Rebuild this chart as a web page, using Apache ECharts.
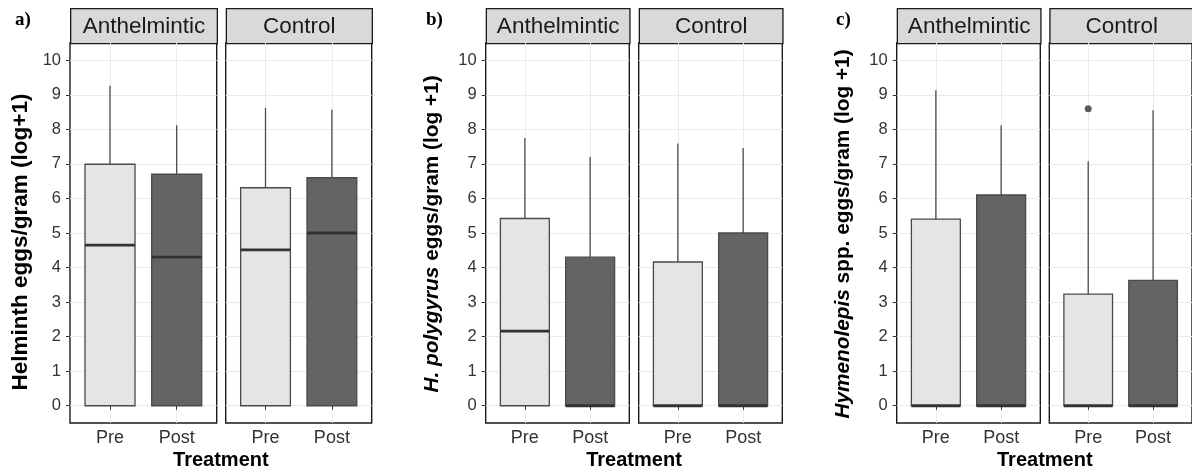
<!DOCTYPE html>
<html><head><meta charset="utf-8">
<script src="https://cdn.jsdelivr.net/npm/echarts@6/dist/echarts.min.js"></script>
<style>html,body{margin:0;padding:0;background:#fff}#c{width:1192px;height:474px}</style>
</head><body><div id="c"></div>
<script>
// ---------- data ----------
const categories = ['Pre', 'Post'];
const facets = ['Anthelmintic', 'Control'];
const yTicks = [0, 1, 2, 3, 4, 5, 6, 7, 8, 9, 10];
// each row: [lower whisker, Q1, median, Q3, upper whisker] for Pre, Post
const helminthAnth = [[0, 0, 4.65, 6.99, 9.26], [0, 0, 4.30, 6.70, 8.12]];
const helminthCtrl = [[0, 0, 4.51, 6.31, 8.62], [0, 0, 5.00, 6.60, 8.57]];
const polygyrusAnth = [[0, 0, 2.16, 5.42, 7.75], [0, 0, 0, 4.30, 7.20]];
const polygyrusCtrl = [[0, 0, 0, 4.16, 7.59], [0, 0, 0, 5.00, 7.46]];
const hymenAnth = [[0, 0, 0, 5.40, 9.13], [0, 0, 0, 6.10, 8.12]];
const hymenCtrl = [[0, 0, 0, 3.23, 7.08], [0, 0, 0, 3.63, 8.55]];
// outliers: [category, value]
const hymenCtrlOutliers = [['Pre', 8.60]];
const panelLetters = ['a)', 'b)', 'c)'];
const yTitles = [
  '{b|Helminth eggs/gram (log+1)}',
  '{i|H. polygyrus}{b| eggs/gram (log +1)}',
  '{i|Hymenolepis}{b| spp. eggs/gram (log +1)}'
];
const xTitle = 'Treatment';

// ---------- layout ----------
const FONT = '"Liberation Sans", Arial, Helvetica, sans-serif';
const PLOT_TOP = 43, PLOT_H = 380, STRIP_TOP = 8;
const facetLayout = [
  {left: 70, width: 146.7, data: helminthAnth, showY: true},
  {left: 225.7, width: 146, data: helminthCtrl, showY: false},
  {left: 485.7, width: 143.6, data: polygyrusAnth, showY: true},
  {left: 638.7, width: 143.6, data: polygyrusCtrl, showY: false},
  {left: 896.7, width: 143.6, data: hymenAnth, showY: true},
  {left: 1049.3, width: 143.6, data: hymenCtrl, showY: false, outliers: hymenCtrlOutliers}
];
const letterPos = [[15, 20], [426, 20], [836, 20]];
const yTitlePos = [[21, 242], [432, 234], [843, 234]];
const yTitleSize = [22.5, 20.8, 20.8];

const fills = ['#e5e5e5', '#646464'];

function renderBox(params, api) {
  const x = api.value(0);
  const low = api.value(1), q1 = api.value(2), med = api.value(3), q3 = api.value(4), high = api.value(5);
  const half = 0.375;
  const tl = api.coord([x - half, q3]);
  const br = api.coord([x + half, q1]);
  const hi = api.coord([x, high]);
  const q3p = api.coord([x, q3]);
  const q1p = api.coord([x, q1]);
  const lo = api.coord([x, low]);
  const mL = api.coord([x - half, med]);
  const mR = api.coord([x + half, med]);
  const fill = fills[Math.round(x) - 1];
  const ws = {stroke: '#4a4a4a', lineWidth: 1.3};
  return {
    type: 'group',
    children: [
      {type: 'line', shape: {x1: hi[0], y1: hi[1], x2: q3p[0], y2: q3p[1]}, style: ws},
      {type: 'line', shape: {x1: lo[0], y1: lo[1], x2: q1p[0], y2: q1p[1]}, style: ws},
      {type: 'rect', shape: {x: tl[0], y: tl[1], width: br[0] - tl[0], height: br[1] - tl[1]},
        style: {fill: fill, stroke: '#4a4a4a', lineWidth: 1.3}},
      {type: 'line', shape: {x1: mL[0], y1: mL[1], x2: mR[0], y2: mR[1]},
        style: {stroke: '#333333', lineWidth: 2.8}}
    ]
  };
}

const grids = [], xAxes = [], yAxes = [], series = [], graphics = [];
facetLayout.forEach((f, i) => {
  grids.push({left: f.left, top: PLOT_TOP, width: f.width, height: PLOT_H,
    show: true, borderColor: '#1a1a1a', borderWidth: 1.4, backgroundColor: 'transparent'});
  xAxes.push({
    type: 'value', gridIndex: i, min: 0.4, max: 2.6,
    axisLine: {show: false},
    axisTick: {show: true, customValues: [1, 2], length: 4, lineStyle: {color: '#333', width: 1}},
    axisLabel: {show: true, customValues: [1, 2], formatter: v => categories[Math.round(v) - 1],
      color: '#333', fontSize: 18, fontFamily: FONT, margin: 6},
    splitLine: {show: true, lineStyle: {color: '#ebebeb', width: 1}}
  });
  yAxes.push({
    type: 'value', gridIndex: i, min: -0.5, max: 10.5,
    axisLine: {show: false},
    axisTick: {show: f.showY, customValues: yTicks, length: 4, lineStyle: {color: '#333', width: 1}},
    axisLabel: {show: f.showY, customValues: yTicks, color: '#333', fontSize: 16.5, fontFamily: FONT, margin: 9},
    splitLine: {show: true, lineStyle: {color: '#ebebeb', width: 1}}
  });
  series.push({
    type: 'custom', xAxisIndex: i, yAxisIndex: i,
    renderItem: renderBox,
    encode: {x: 0, y: [1, 2, 3, 4, 5]},
    data: categories.map((c, k) => [k + 1].concat(f.data[k])),
    silent: true, clip: false
  });
  if (f.outliers) {
    series.push({
      type: 'scatter', xAxisIndex: i, yAxisIndex: i, symbolSize: 7,
      itemStyle: {color: '#333333'}, silent: true,
      data: f.outliers.map(o => [categories.indexOf(o[0]) + 1, o[1]])
    });
  }
  // strip
  graphics.push({
    type: 'group', left: f.left, top: STRIP_TOP,
    children: [
      {type: 'rect', shape: {x: 0, y: 0, width: f.width, height: PLOT_TOP - STRIP_TOP},
        style: {fill: '#d9d9d9', stroke: '#1a1a1a', lineWidth: 1.3}},
      {type: 'text', x: f.width / 2, y: (PLOT_TOP - STRIP_TOP) / 2 + 1,
        style: {text: facets[i % 2], align: 'center', verticalAlign: 'middle',
          font: '22.5px ' + FONT, fill: '#1a1a1a'}}
    ]
  });
});

// panel letters, axis titles
for (let p = 0; p < 3; p++) {
  graphics.push({type: 'text', x: letterPos[p][0], y: letterPos[p][1],
    style: {text: panelLetters[p], verticalAlign: 'middle', font: 'bold 19px "Liberation Serif", "Times New Roman", serif', fill: '#000'}});
  const fs = yTitleSize[p];
  graphics.push({type: 'text', x: yTitlePos[p][0], y: yTitlePos[p][1], rotation: Math.PI / 2,
    style: {text: yTitles[p], align: 'center', verticalAlign: 'middle', fill: '#000',
      rich: {
        b: {fontFamily: FONT, fontWeight: 'bold', fontSize: fs, fill: '#000'},
        i: {fontFamily: FONT, fontWeight: 'bold', fontStyle: 'italic', fontSize: fs, fill: '#000'}
      }}});
  const fa = facetLayout[2 * p], fb = facetLayout[2 * p + 1];
  const cx = (fa.left + fb.left + fb.width) / 2;
  graphics.push({type: 'text', x: cx, y: 460,
    style: {text: xTitle, align: 'center', verticalAlign: 'middle',
      font: 'bold 20px ' + FONT, fill: '#000'}});
}

const chart = echarts.init(document.getElementById('c'), null, {renderer: 'canvas'});
chart.setOption({
  animation: false,
  backgroundColor: '#ffffff',
  grid: grids, xAxis: xAxes, yAxis: yAxes, series: series,
  graphic: graphics
});
</script>
</body></html>
